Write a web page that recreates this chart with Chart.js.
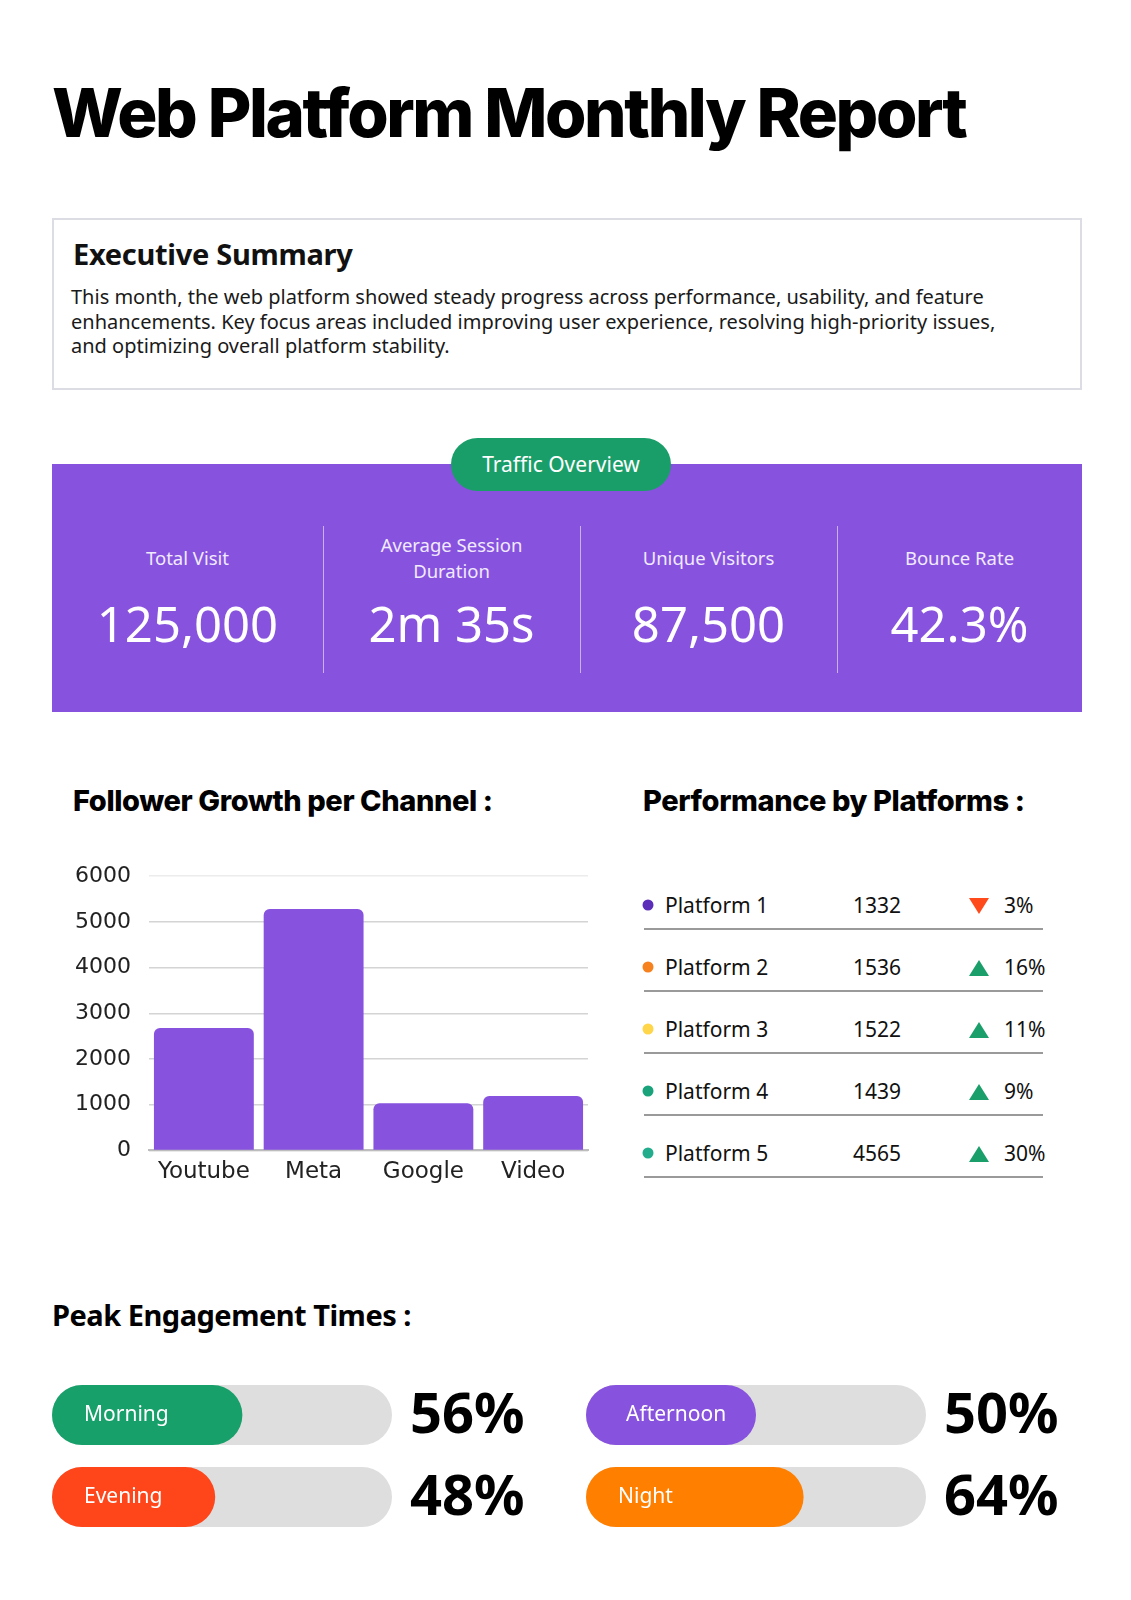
<!DOCTYPE html>
<html>
<head>
<meta charset="utf-8">
<script src="https://cdn.jsdelivr.net/npm/chart.js@4.4.1/dist/chart.umd.min.js"></script>
<style>
  html, body { margin: 0; padding: 0; background: #fff; }
  body { font-family: "Noto Sans", sans-serif; color: #111; }
  #page { position: relative; width: 1131px; height: 1600px; overflow: hidden; }
  .abs { position: absolute; }
  h1 { position: absolute; left: 52px; top: 72px; margin: 0; font: 800 67px Inter, sans-serif; letter-spacing: -2.4px; color: #000; }
  .h2 { position: absolute; margin: 0; font: 800 29px Inter, sans-serif; letter-spacing: -0.4px; color: #000; line-height: 1; }
  .h3 { position: absolute; margin: 0; font: 700 29px "Noto Sans", sans-serif; letter-spacing: -0.5px; color: #000; line-height: 1; }
  #summary { left: 52px; top: 218px; width: 1026px; height: 168px; border: 2px solid #dcdce4; }
  #summary .t { position: absolute; left: 19px; top: 14px; font: 700 29px "Noto Sans", sans-serif; letter-spacing: -0.3px; }
  #summary p { position: absolute; left: 17px; top: 65px; width: 935px; margin: 0; font-size: 20px; line-height: 24.5px; color: #1a1a1a; }
  #kpi { left: 52px; top: 464px; width: 1030px; height: 248px; background: #8752de; }
  .pill { left: 451px; top: 438px; width: 220px; height: 53px; border-radius: 27px; background: #1a9e69; color: #fff; font-size: 21px; line-height: 53px; text-align: center; }
  .col { position: absolute; top: 0; height: 248px; color: #fff; text-align: center; }
  .col .lab { position: absolute; left: 0; right: 0; top: 94px; height: 0; }
  .col .lab span { display: block; transform: translateY(-50%); font-size: 18.5px; line-height: 26px; color: #f1eaff; }
  .col .val { position: absolute; left: 0; right: 0; top: 159px; transform: translateY(-50%); font-size: 49px; line-height: 1; font-weight: 400; }
  .div { position: absolute; top: 62px; width: 1px; height: 147px; background: rgba(255,255,255,0.55); }
  .prow { position: absolute; left: 644px; width: 399px; height: 2px; background: #9a9a9a; }
  .ptxt { position: absolute; font-size: 21px; line-height: 1; transform: translateY(-50%); color: #111; }
  .dot { position: absolute; width: 11px; height: 11px; border-radius: 50%; transform: translate(-50%, -50%); }
  .tri { position: absolute; width: 0; height: 0; border-left: 10px solid transparent; border-right: 10px solid transparent; transform: translate(-50%, -50%); }
</style>
</head>
<body>
<div id="page">
  <h1>Web Platform Monthly Report</h1>

  <div id="summary" class="abs">
    <div class="t">Executive Summary</div>
    <p>This month, the web platform showed steady progress across performance, usability, and feature enhancements. Key focus areas included improving user experience, resolving high-priority issues, and optimizing overall platform stability.</p>
  </div>

  <div id="kpi" class="abs"></div>
  <div class="abs pill">Traffic Overview</div>

  <div class="h2" style="left:73px; top:786px;">Follower Growth per Channel :</div>
  <div class="h2" style="left:643px; top:786px;">Performance by Platforms :</div>

  <div class="abs" style="left:40px; top:845px; width:560px; height:349px;">
    <canvas id="followerChart"></canvas>
  </div>

  <div id="platforms"></div>

  <div class="h3" style="left:52px; top:1300px;">Peak Engagement Times :</div>

  <div class="abs" style="left:52px; top:1374px; width:488px; height:164px;">
    <canvas id="peakLeft"></canvas>
  </div>
  <div class="abs" style="left:586px; top:1374px; width:488px; height:164px;">
    <canvas id="peakRight"></canvas>
  </div>
</div>

<script>
// traffic numbers
const kpiLabels = ['Total Visit', 'Average Session<br>Duration', 'Unique Visitors', 'Bounce Rate'];
const kpiValues = ['125,000', '2m 35s', '87,500', '42.3%'];

// follower growth bar chart
const channels = ['Youtube', 'Meta', 'Google', 'Video'];
const followers = [2680, 5280, 1030, 1190];
const followerTicks = [0, 1000, 2000, 3000, 4000, 5000, 6000];

// platform table
const platformNames = ['Platform 1', 'Platform 2', 'Platform 3', 'Platform 4', 'Platform 5'];
const platformValues = [1332, 1536, 1522, 1439, 4565];
const platformChange = [-3, 16, 11, 9, 30];
const platformDots = ['#5b2db8', '#f5821f', '#ffd54a', '#1aa37a', '#24ad8c'];

// peak engagement
const periods = ['Morning', 'Afternoon', 'Evening', 'Night'];
const shares = [56, 50, 48, 64];
const periodColors = ['#18a06a', '#8752de', '#ff451a', '#ff7f00'];

document.addEventListener('DOMContentLoaded', function () {
    // kpi columns
    const kpi = document.getElementById('kpi');
    const colW = [271, 257, 257, 245];
    let x = 0;
    kpiLabels.forEach(function (lab, i) {
        const c = document.createElement('div');
        c.className = 'col';
        c.style.left = x + 'px';
        c.style.width = colW[i] + 'px';
        c.innerHTML = '<div class="lab"><span>' + lab + '</span></div><div class="val">' + kpiValues[i] + '</div>';
        kpi.appendChild(c);
        x += colW[i];
        if (i < kpiLabels.length - 1) {
            const d = document.createElement('div');
            d.className = 'div';
            d.style.left = x + 'px';
            kpi.appendChild(d);
        }
    });

    // platform rows
    const pl = document.getElementById('platforms');
    platformNames.forEach(function (name, i) {
        const line = 928 + i * 62;
        const cy = line - 23;
        let h = '';
        h += '<div class="dot" style="left:648px; top:' + cy + 'px; background:' + platformDots[i] + '"></div>';
        h += '<div class="ptxt" style="left:665px; top:' + cy + 'px">' + name + '</div>';
        h += '<div class="ptxt" style="left:853px; top:' + cy + 'px">' + platformValues[i] + '</div>';
        const up = platformChange[i] >= 0;
        const triStyle = up ? 'border-bottom:16px solid #1a9e6a' : 'border-top:16px solid #ff4a1c';
        h += '<div class="tri" style="left:979px; top:' + (cy + 1) + 'px;' + triStyle + '"></div>';
        h += '<div class="ptxt" style="left:1004px; top:' + cy + 'px">' + Math.abs(platformChange[i]) + '%</div>';
        h += '<div class="prow" style="top:' + line + 'px"></div>';
        pl.insertAdjacentHTML('beforeend', h);
    });

    // follower bar chart
    const ctx = document.getElementById('followerChart').getContext('2d');
    new Chart(ctx, {
        type: 'bar',
        data: {
            labels: channels,
            datasets: [{
                data: followers,
                backgroundColor: '#8752de',
                borderRadius: 6,
                barPercentage: 0.91,
                categoryPercentage: 1,
            }],
        },
        options: {
            responsive: true,
            maintainAspectRatio: false,
            animation: false,
            layout: { padding: { top: 16, right: 12 } },
            plugins: { legend: { display: false }, tooltip: { enabled: false } },
            scales: {
                y: {
                    min: followerTicks[0],
                    max: followerTicks[followerTicks.length - 1],
                    afterBuildTicks: function (s) { s.ticks = followerTicks.map(v => ({ value: v })); },
                    afterFit: function (s) { s.width = 109; },
                    ticks: {
                        color: '#222',
                        font: { family: 'DejaVu Sans', size: 22 },
                        padding: 18,
                        callback: (v) => String(v),
                    },
                    grid: {
                        drawTicks: false,
                        color: (c) => c.tick && c.tick.value === 6000 ? '#ececec' : '#d4d4d4',
                        lineWidth: 1.5,
                    },
                    border: { display: false },
                },
                x: {
                    grid: { display: false, drawTicks: false },
                    border: { color: '#bdbdbd', width: 2 },
                    ticks: { color: '#222', font: { family: 'DejaVu Sans', size: 23 }, padding: 8 },
                },
            },
        },
    });

    // labels inside the pills and the big percentages
    const pillText = {
        id: 'pillText',
        afterDatasetsDraw(chart) {
            const c = chart.ctx;
            const meta = chart.getDatasetMeta(0);
            const names = chart.data.labels;
            meta.data.forEach(function (bar, i) {
                c.save();
                c.fillStyle = '#fff';
                c.font = '21px "Noto Sans"';
                c.textBaseline = 'middle';
                c.fillText(names[i], bar.base + (names[i] === 'Afternoon' ? 40 : 32), bar.y);
                c.fillStyle = '#000';
                c.font = 'bold 56px "Noto Sans"';
                c.fillText(chart.data.datasets[0].data[i] + '%', chart.chartArea.right + 18, bar.y + 2);
                c.restore();
            });
        },
    };

    function peakChart(id, idx) {
        new Chart(document.getElementById(id).getContext('2d'), {
            type: 'bar',
            data: {
                labels: idx.map(i => periods[i]),
                datasets: [
                    {
                        data: idx.map(i => shares[i]),
                        backgroundColor: idx.map(i => periodColors[i]),
                        borderRadius: 30,
                        borderSkipped: false,
                        barPercentage: 0.73,
                        categoryPercentage: 1,
                        grouped: false,
                    },
                    {
                        data: idx.map(() => 100),
                        backgroundColor: '#dedede',
                        borderRadius: 30,
                        borderSkipped: false,
                        barPercentage: 0.73,
                        categoryPercentage: 1,
                        grouped: false,
                    },
                ],
            },
            options: {
                indexAxis: 'y',
                responsive: true,
                maintainAspectRatio: false,
                animation: false,
                layout: { padding: { right: 148 } },
                plugins: { legend: { display: false }, tooltip: { enabled: false } },
                scales: {
                    x: { display: false, min: 0, max: 100 },
                    y: { display: false },
                },
            },
            plugins: [pillText],
        });
    }
    peakChart('peakLeft', [0, 2]);
    peakChart('peakRight', [1, 3]);
});
</script>
</body>
</html>
